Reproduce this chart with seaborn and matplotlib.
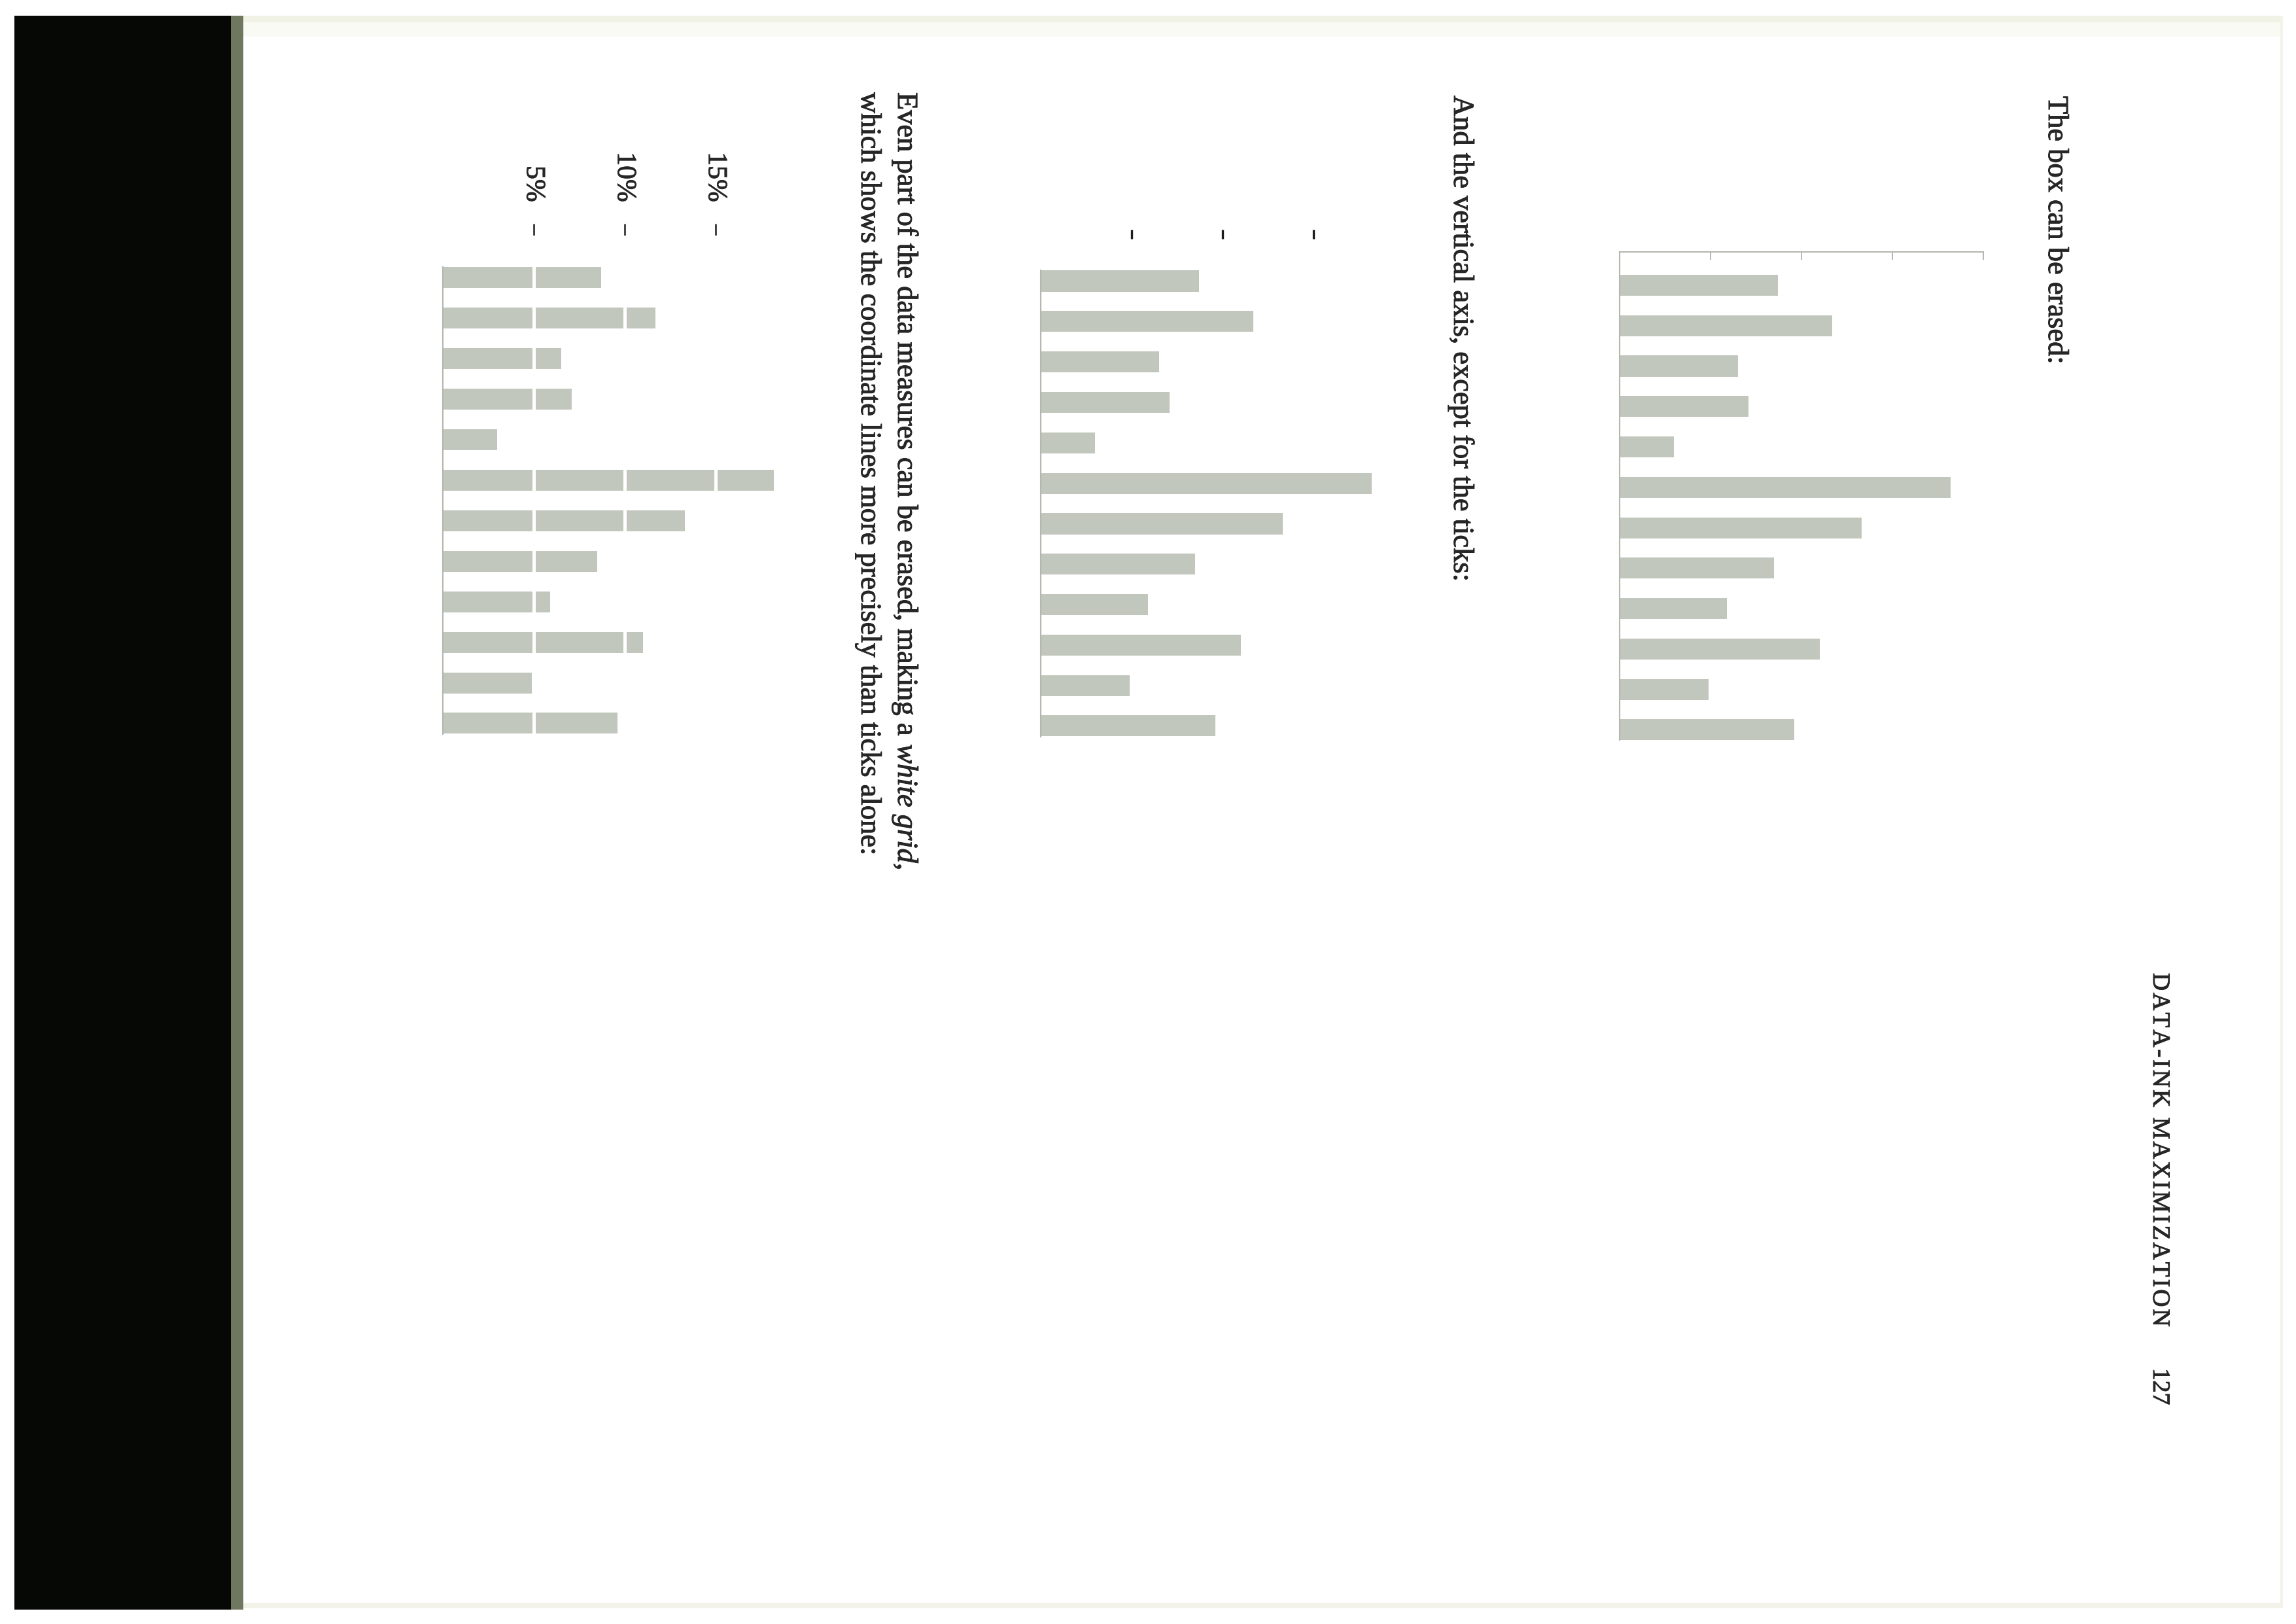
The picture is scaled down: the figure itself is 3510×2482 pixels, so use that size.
"""Scanned book page: three bar charts showing data-ink erasing steps."""

import matplotlib

matplotlib.use("Agg")

import matplotlib.patheffects as pe
import matplotlib.pyplot as plt
import seaborn as sns
from matplotlib.patches import Rectangle


# %%
# Data
BARS = [f"b{i}" for i in range(1, 13)]
VALUES = [8.7, 11.7, 6.5, 7.1, 3.0, 18.2, 13.3, 8.5, 5.9, 11.0, 4.9, 9.6]
TICKS_BOX = [0, 5, 10, 15, 20]
TICKS_FREE = [5, 10, 15]
TICK_LABELS = ["5%", "10%", "15%"]

HEADER = "DATA-INK MAXIMIZATION"
PAGE_NUMBER = "127"
LINE_BOX = "The box can be erased:"
LINE_TICKS = "And the vertical axis, except for the ticks:"
LINE_GRID_A = "Even part of the data measures can be erased, making a"
LINE_GRID_I = "white grid"
LINE_GRID_B = ","
LINE_GRID_2 = "which shows the coordinate lines more precisely than ticks alone:"

# %%
# Style
W, H, DPI = 3510, 2482, 100
BAR_COLOR = "#c2c7bd"
SPINE_COLOR = "#b3b7ae"
INK = "#262626"
SERIF = ["Liberation Serif", "DejaVu Serif"]
BODY_SIZE = 32
INK_SPREAD = [pe.withStroke(linewidth=0.7, foreground=INK)]

sns.set_style("white")
plt.rcParams["font.family"] = SERIF

fig = plt.figure(figsize=(W / DPI, H / DPI), dpi=DPI, facecolor="white")


def rect(x0, y0, x1, y1):
    """Pixel box (top-left origin) to figure fraction [l, b, w, h]."""
    return [x0 / W, 1 - y1 / H, (x1 - x0) / W, (y1 - y0) / H]


def page_patch(x0, y0, x1, y1, color):
    l, b, w, h = rect(x0, y0, x1, y1)
    fig.add_artist(
        Rectangle((l, b), w, h, transform=fig.transFigure, color=color, lw=0, zorder=0)
    )


# %%
# Scanner background and page edges
page_patch(22, 24, 355, 2460, "#050805")
page_patch(353, 24, 372, 2460, "#6f775e")
page_patch(372, 24, 3488, 34, "#f1f2e6")
page_patch(372, 34, 3488, 56, "#fafaf4")
page_patch(372, 2450, 3488, 2458, "#f2f2e8")
page_patch(3486, 24, 3490, 2458, "#f3f3ec")


def bar_axis(box, ylim):
    ax = fig.add_axes(rect(*box))
    sns.barplot(
        x=VALUES,
        y=BARS,
        orient="h",
        color=BAR_COLOR,
        saturation=1,
        width=0.52,
        linewidth=0,
        ax=ax,
    )
    ax.set_xlim(0, 20)
    ax.set_ylim(*ylim)
    ax.patch.set_visible(False)
    ax.set(xlabel="", ylabel="")
    ax.set_yticks([])
    for side in ["top", "right", "bottom", "left"]:
        ax.spines[side].set_visible(False)
    ax.spines["left"].set_visible(True)
    ax.spines["left"].set_color(SPINE_COLOR)
    ax.spines["left"].set_linewidth(1.5)
    ax.xaxis.set_ticks_position("top")
    return ax


# %%
# Chart 1: box erased, axes kept
ax1 = bar_axis((2476, 385, 3032, 1131), (11.25, -0.825))
ax1.spines["top"].set_visible(True)
ax1.spines["top"].set_color(SPINE_COLOR)
ax1.spines["top"].set_linewidth(1.5)
ax1.set_xticks(TICKS_BOX)
ax1.set_xticklabels([])
ax1.tick_params(axis="x", direction="in", length=8.5, width=1.4, color=SPINE_COLOR)

# Chart 2: only the ticks of the vertical axis
ax2 = bar_axis((1591, 351, 2147, 1125), (11.25, -1.27))
ax2.spines["left"].set_bounds(-0.26, 11.26)
ax2.set_xticks(TICKS_FREE)
ax2.set_xticklabels([])
ax2.tick_params(axis="x", direction="in", length=10, width=2.4, color="#1c1c1c")

# Chart 3: white grid through the bars
ax3 = bar_axis((677, 360, 1233, 1121), (11.25, -1.04))
ax3.spines["left"].set_bounds(-0.26, 11.26)
ax3.set_xticks(TICKS_FREE)
ax3.set_xticklabels(TICK_LABELS, rotation=-90, fontsize=30, color=INK)
for label in ax3.get_xticklabels():
    label.set_path_effects(INK_SPREAD)
ax3.tick_params(axis="x", direction="out", length=13, width=1.8, color="#1c1c1c", pad=24)
for value in TICKS_FREE:
    ax3.axvline(value, color="white", lw=3.6, zorder=5)


# %%
# Text (page is rotated, lines run top to bottom)
renderer = fig.canvas.get_renderer()


def put(x, y, text, size=BODY_SIZE, style="normal"):
    t = fig.text(
        x / W,
        1 - y / H,
        text,
        rotation=-90,
        rotation_mode="anchor",
        ha="left",
        va="baseline",
        fontsize=size,
        style=style,
        family=SERIF,
        color=INK,
        path_effects=INK_SPREAD,
    )
    return t.get_window_extent(renderer).height


def space_width(size=BODY_SIZE):
    probe = fig.text(0, 0, "x x", fontsize=size, family=SERIF)
    wide = probe.get_window_extent(renderer).width
    probe.set_text("xx")
    narrow = probe.get_window_extent(renderer).width
    probe.remove()
    return wide - narrow


put(3132, 147, LINE_BOX)
put(2223, 146, LINE_TICKS)

y = 141
y += put(1373, y, LINE_GRID_A) + space_width()
y += put(1373, y, LINE_GRID_I, style="italic")
put(1373, y, LINE_GRID_B)
put(1317, 141, LINE_GRID_2)

put(3292, 1487, "\u200a".join(HEADER), size=27)
put(3292, 2091, PAGE_NUMBER, size=27)

fig.savefig("out.png", dpi=DPI, facecolor="white")
